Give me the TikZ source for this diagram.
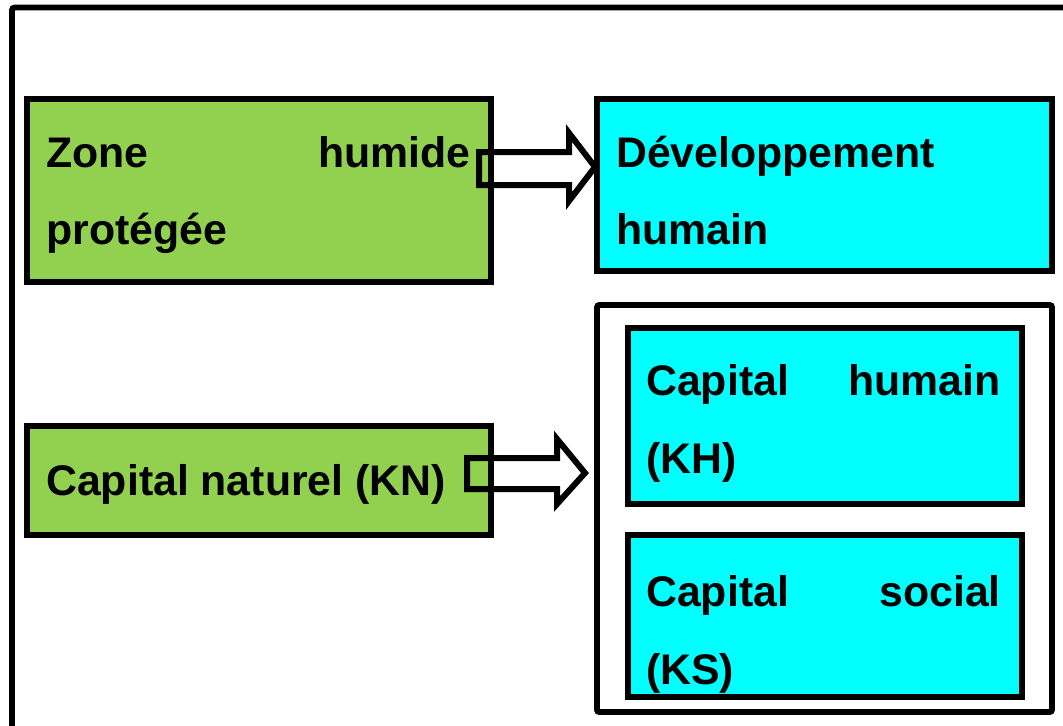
\documentclass[tikz,border=0pt]{standalone}
\usepackage{fontspec}
\setmainfont{Liberation Sans}
\usetikzlibrary{fit}
\definecolor{boxgreen}{HTML}{92D050}
\definecolor{boxcyan}{HTML}{00FFFF}
\begin{document}
\begin{tikzpicture}[x=0.75pt,y=-0.75pt,
  frame/.style={draw=black,line width=4.4pt,rounded corners=2pt},
  box/.style={draw=black,line width=4.5pt,inner sep=0pt,outer sep=0pt},
  greenbox/.style={box,fill=boxgreen},
  cyanbox/.style={box,fill=boxcyan},
  holder/.style={box,fill=white,line width=4.2pt,rounded corners=1.5pt},
  lbl/.style={inner sep=0pt,font=\fontsize{32.1}{38}\selectfont\bfseries},
  blockarrow/.style={draw=black,line width=4.5pt,line join=miter,fill=none}]
\useasboundingbox (0,0) rectangle (1063,725);
\clip (0,0) rectangle (1063,725);
\draw[frame] (12,7.5) rectangle (1080,745);
% boxes
\node[greenbox,fit={(27,99)(491,282)}] (zone) {};
\node[cyanbox,fit={(597,99)(1052,271)}] (dev) {};
\node[holder,fit={(597,305)(1052,712)}] (caps) {};
\node[cyanbox,fit={(628,328)(1022,504)}] (kh) {};
\node[cyanbox,fit={(628,535)(1022,697)}] (ks) {};
\node[greenbox,fit={(27,426)(491,535)}] (kn) {};
% texts
\node[lbl,anchor=base west] (zoneA) at (46,167) {Zone};
\node[lbl,anchor=base east] (zoneB) at (471,167) {humide};
\node[lbl,anchor=base west] (zoneC) at (46,244) {protégée};
\node[lbl,anchor=base west] (devA) at (616,167) {Développement};
\node[lbl,anchor=base west] (devB) at (616,244) {humain};
\node[lbl,anchor=base west] (khA) at (646,395) {Capital};
\node[lbl,anchor=base east] (khB) at (1001,395) {humain};
\node[lbl,anchor=base west] (khC) at (646,473) {(KH)};
\node[lbl,anchor=base west] (knA) at (46,495) {Capital naturel (KN)};
\node[lbl,anchor=base west] (ksA) at (646,606) {Capital};
\node[lbl,anchor=base east] (ksB) at (1001,606) {social};
\node[lbl,anchor=base west] (ksC) at (646,684) {(KS)};
% block arrows
\draw[blockarrow] (479,152) -- (569,152) -- (569,133) -- (595,167) -- (569,201) -- (569,185) -- (479,185) -- cycle;
\draw[blockarrow] (467,458) -- (557,458) -- (557,439) -- (585,473) -- (557,504) -- (557,489) -- (467,489) -- cycle;
\end{tikzpicture}
\end{document}
